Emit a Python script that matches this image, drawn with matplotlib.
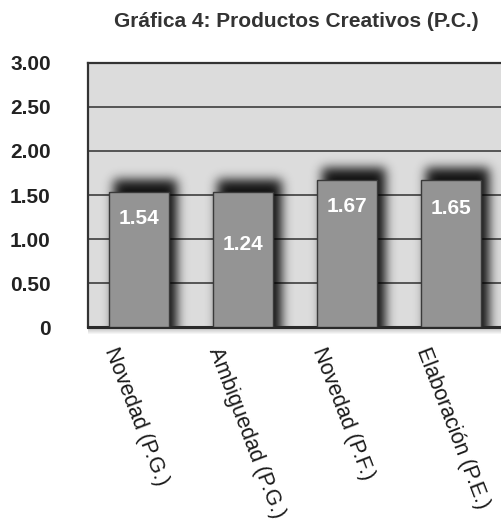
import matplotlib.pyplot as plt
import numpy as np
from matplotlib.patches import Rectangle

# datos
categorias = ['Novedad (P.G.)', 'Ambiguedad (P.G.)', 'Novedad (P.F.)', 'Elaboración (P.E.)']
alturas = [1.54, 1.54, 1.67, 1.67]        # altura dibujada de cada barra
valores = [1.54, 1.24, 1.67, 1.65]        # valor escrito dentro de la barra
yticks = [0, 0.5, 1.0, 1.5, 2.0, 2.5, 3.0]
ytick_labels = ['0', '0.50', '1.00', '1.50', '2.00', '2.50', '3.00']
titulo = 'Gráfica 4: Productos Creativos (P.C.)'

fuente = 'Liberation Sans'
ancho = 0.58
xmin, xmax = -0.485, 3.5
ymin, ymax = 0, 3.0

fig = plt.figure(figsize=(5.02, 5.26), dpi=100)
ax = fig.add_axes([0.176, 0.3774, 0.826, 0.5034])
ax.set_facecolor('#dcdcdc')

# lineas horizontales
for y in yticks[1:-1]:
    ax.axhline(y, color='#4a4a4a', lw=1.3, zorder=1)

# sombra difuminada: mascara de las barras desplazada + desenfoque gaussiano
W, H = 420, 300
xs = np.linspace(xmin, xmax, W)
ys = np.linspace(-0.3, ymax, H)
X, Y = np.meshgrid(xs, ys)
mask = np.zeros((H, W))
for i, h in enumerate(alturas):
    x0 = i - ancho / 2 + 0.05
    x1 = i + ancho / 2 + 0.08
    mask[(X >= x0) & (X <= x1) & (Y <= h + 0.13)] = 1.0
t = np.arange(-16, 17)
kern = np.exp(-0.5 * (t / 5.5) ** 2)
kern /= kern.sum()
blur = np.apply_along_axis(lambda r: np.convolve(r, kern, mode='same'), 1, mask)
blur = np.apply_along_axis(lambda c: np.convolve(c, kern, mode='same'), 0, blur)
sombra = np.zeros((H, W, 4))
sombra[..., 3] = np.clip(blur, 0, 1) * 0.92
ax.imshow(sombra, extent=[xmin, xmax, -0.3, ymax], origin='lower', aspect='auto',
          interpolation='bilinear', zorder=2)

ax.bar(range(len(alturas)), alturas, width=ancho, color='#949494',
       edgecolor='#3a3a3a', linewidth=1.0, zorder=3)

# etiquetas de valor
for i, v in enumerate(valores):
    ax.text(i, v - 0.3, f'{v:.2f}', ha='center', va='center', color='white',
            fontsize=15, fontweight='bold', family=fuente, zorder=4)

# sombra suave bajo el eje inferior
for j in range(1, 7):
    ax.add_patch(Rectangle((0, -0.004 * j), 1, 0.004 * j, transform=ax.transAxes,
                           facecolor='black', edgecolor='none', alpha=0.04,
                           clip_on=False, zorder=0))

ax.set_xlim(xmin, xmax)
ax.set_ylim(ymin, ymax)

# ejes
ax.set_yticks(yticks)
ax.set_yticklabels(ytick_labels, fontsize=15, fontweight='bold', family=fuente, color='#222222')
ax.tick_params(axis='y', length=0, pad=27)
ax.set_xticks([])
for s in ['left', 'top']:
    ax.spines[s].set_color('#333333')
    ax.spines[s].set_linewidth(1.6)
ax.spines['bottom'].set_color('#2a2a2a')
ax.spines['bottom'].set_linewidth(2.2)
ax.spines['right'].set_visible(False)

# etiquetas de categoria inclinadas
for i, c in enumerate(categorias):
    ax.annotate(c, xy=(i, 0), xycoords=('data', 'axes fraction'),
                xytext=(-19, -17), textcoords='offset pixels',
                rotation=-69, rotation_mode='anchor', ha='left', va='top',
                fontsize=15.5, family=fuente, color='#1a1a1a', annotation_clip=False)

fig.text(0.59, 0.959, titulo, ha='center', va='center', fontsize=15,
         fontweight='bold', family=fuente, color='#333333')

fig.savefig('out.png', dpi=100)
